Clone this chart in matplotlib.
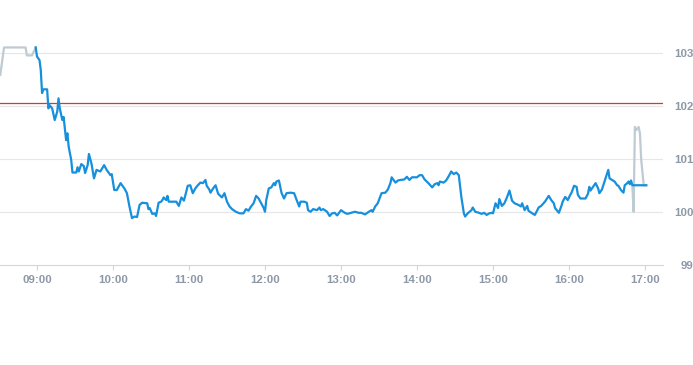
import matplotlib
matplotlib.use("Agg")
import matplotlib.pyplot as plt

# ---- data -------------------------------------------------------------
pre_times = ["08:31", "08:34", "08:51", "08:52", "08:56", "08:59"]
pre_values = [102.59, 103.11, 103.11, 102.96, 102.96, 103.11]

main_times = [
    "08:59", "09:00", "09:02", "09:03", "09:04", "09:05", "09:08", "09:09", "09:10", "09:12",
    "09:14", "09:16", "09:17", "09:18", "09:20", "09:21", "09:23", "09:24", "09:25", "09:27",
    "09:28", "09:31", "09:32", "09:33", "09:35", "09:37", "09:38", "09:40", "09:41", "09:43",
    "09:45", "09:47", "09:50", "09:53", "09:55", "09:58", "09:59", "10:01", "10:03", "10:06",
    "10:09", "10:11", "10:13", "10:15", "10:17", "10:19", "10:21", "10:23", "10:27", "10:28",
    "10:29", "10:31", "10:33", "10:34", "10:36", "10:38", "10:39", "10:40", "10:42", "10:43",
    "10:44", "10:48", "10:50", "10:52", "10:54", "10:56", "10:57", "10:59", "11:01", "11:03",
    "11:05", "11:07", "11:09", "11:11", "11:13", "11:14", "11:16", "11:17", "11:19", "11:21",
    "11:23", "11:26", "11:28", "11:30", "11:32", "11:34", "11:37", "11:40", "11:43", "11:45",
    "11:47", "11:49", "11:51", "11:53", "11:55", "11:57", "11:59", "12:00", "12:01", "12:03",
    "12:05", "12:07", "12:08", "12:09", "12:11", "12:12", "12:13", "12:15", "12:17", "12:20",
    "12:23", "12:25", "12:27", "12:28", "12:31", "12:33", "12:34", "12:36", "12:38", "12:41",
    "12:43", "12:44", "12:46", "12:49", "12:51", "12:53", "12:55", "12:57", "13:00", "13:03",
    "13:05", "13:08", "13:11", "13:14", "13:16", "13:19", "13:22", "13:24", "13:25", "13:27",
    "13:29", "13:32", "13:35", "13:37", "13:39", "13:40", "13:43", "13:45", "13:47", "13:50",
    "13:52", "13:54", "13:56", "14:00", "14:02", "14:04", "14:06", "14:09", "14:12", "14:14",
    "14:16", "14:17", "14:18", "14:21", "14:23", "14:25", "14:27", "14:29", "14:31", "14:33",
    "14:35", "14:37", "14:38", "14:40", "14:43", "14:44", "14:46", "14:49", "14:51", "14:53",
    "14:55", "14:57", "14:59", "15:00", "15:02", "15:04", "15:05", "15:07", "15:09", "15:11",
    "15:13", "15:15", "15:17", "15:20", "15:22", "15:23", "15:25", "15:27", "15:28", "15:31",
    "15:33", "15:35", "15:36", "15:38", "15:41", "15:44", "15:46", "15:48", "15:49", "15:52",
    "15:54", "15:55", "15:57", "15:59", "16:01", "16:02", "16:04", "16:06", "16:07", "16:09",
    "16:13", "16:15", "16:16", "16:17", "16:19", "16:21", "16:23", "16:24", "16:26", "16:28",
    "16:31", "16:32", "16:34", "16:36", "16:38", "16:39", "16:41", "16:43", "16:44", "16:46",
    "16:47", "16:48", "16:49", "16:50", "17:01",
]
main_values = [
    103.11, 102.94, 102.87, 102.68, 102.25, 102.32, 102.32, 101.96, 102.02, 101.96,
    101.74, 101.90, 102.15, 101.96, 101.74, 101.80, 101.36, 101.49, 101.24, 100.99,
    100.75, 100.75, 100.85, 100.77, 100.91, 100.87, 100.74, 100.89, 101.10, 100.92,
    100.64, 100.80, 100.77, 100.89, 100.80, 100.70, 100.72, 100.42, 100.42, 100.55,
    100.45, 100.36, 100.11, 99.89, 99.92, 99.91, 100.14, 100.18, 100.17, 100.06,
    100.08, 99.97, 99.98, 99.93, 100.18, 100.20, 100.23, 100.28, 100.23, 100.31,
    100.20, 100.20, 100.20, 100.12, 100.28, 100.22, 100.31, 100.50, 100.51, 100.36,
    100.45, 100.51, 100.56, 100.55, 100.61, 100.50, 100.43, 100.37, 100.45, 100.51,
    100.35, 100.28, 100.36, 100.20, 100.11, 100.06, 100.01, 99.98, 99.98, 100.06,
    100.03, 100.11, 100.17, 100.31, 100.26, 100.17, 100.08, 100.01, 100.23, 100.45,
    100.47, 100.55, 100.51, 100.58, 100.60, 100.48, 100.37, 100.26, 100.36, 100.37,
    100.36, 100.23, 100.11, 100.20, 100.20, 100.18, 100.04, 100.01, 100.06, 100.04,
    100.09, 100.04, 100.06, 100.01, 99.93, 99.98, 99.99, 99.94, 100.04, 99.99,
    99.97, 99.99, 100.01, 99.99, 99.99, 99.96, 100.01, 100.04, 100.01, 100.11,
    100.17, 100.36, 100.37, 100.43, 100.55, 100.66, 100.56, 100.60, 100.61, 100.62,
    100.67, 100.61, 100.66, 100.66, 100.70, 100.70, 100.62, 100.55, 100.47, 100.53,
    100.55, 100.51, 100.58, 100.56, 100.60, 100.68, 100.77, 100.72, 100.75, 100.70,
    100.29, 99.98, 99.92, 99.98, 100.04, 100.09, 100.01, 99.99, 99.97, 99.99,
    99.95, 99.98, 99.99, 99.98, 100.17, 100.08, 100.25, 100.12, 100.17, 100.28,
    100.41, 100.22, 100.17, 100.14, 100.11, 100.17, 100.04, 100.12, 100.03, 99.98,
    99.95, 100.04, 100.09, 100.12, 100.20, 100.31, 100.23, 100.17, 100.08, 99.99,
    100.12, 100.20, 100.29, 100.23, 100.33, 100.37, 100.50, 100.48, 100.33, 100.26,
    100.26, 100.35, 100.48, 100.41, 100.48, 100.55, 100.45, 100.36, 100.43, 100.58,
    100.80, 100.64, 100.61, 100.58, 100.51, 100.50, 100.42, 100.37, 100.51, 100.55,
    100.58, 100.53, 100.60, 100.51, 100.51,
]

post_times = ["16:50", "16:51", "16:52", "16:53", "16:55", "16:56", "16:57", "16:59", "17:01"]
post_values = [100.51, 100.01, 101.61, 101.55, 101.61, 101.49, 100.99, 100.51, 100.51]

reference_level = 102.06

tick_times = ["09:00", "10:00", "11:00", "12:00", "13:00", "14:00", "15:00", "16:00", "17:00"]
y_ticks = [99, 100, 101, 102, 103]
y_tick_labels = ["99", "100", "101", "102", "103"]


def to_min(s):
    h, m = s.split(":")
    return int(h) * 60 + int(m)


# ---- figure -----------------------------------------------------------
plt.rcParams["font.family"] = ["Liberation Sans", "DejaVu Sans"]
fig = plt.figure(figsize=(6.93, 3.65), dpi=100)
ax = fig.add_axes([0.0, 0.2732, 0.9567, 0.672])

x_lo = to_min("09:00") - 29.2
x_hi = to_min("17:00") + 14.2
ax.set_xlim(x_lo, x_hi)
ax.set_ylim(99, 103.628)

# grid
for yv in y_ticks[1:]:
    ax.axhline(yv, color="#e6e6e6", lw=0.8, zorder=0)

ax.axhline(reference_level, color="#cc3a3a", lw=0.9, zorder=1)

ax.plot([to_min(t) for t in pre_times], pre_values, color="#bfcbd3", lw=1.6,
        solid_joinstyle="round", zorder=2)
ax.plot([to_min(t) for t in post_times], post_values, color="#bfcbd3", lw=1.6,
        solid_joinstyle="round", zorder=2)
ax.plot([to_min(t) for t in main_times], main_values, color="#1690dc", lw=1.6,
        solid_joinstyle="round", zorder=3)

for s in ["top", "left", "right"]:
    ax.spines[s].set_visible(False)
ax.spines["bottom"].set_color("#ccd6eb")
ax.spines["bottom"].set_linewidth(0.8)

label_color = "#8e99a8"
ax.set_xticks([to_min(t) for t in tick_times])
ax.set_xticklabels(tick_times)
ax.tick_params(axis="x", length=3.5, width=0.8, color="#ccd6eb", pad=3.5,
               labelsize=8.25, labelcolor=label_color)
for lab in ax.get_xticklabels():
    lab.set_fontweight("bold")

ax.yaxis.tick_right()
ax.set_yticks(y_ticks)
ax.set_yticklabels(y_tick_labels)
ax.tick_params(axis="y", length=0, pad=22, labelsize=8.25, labelcolor=label_color)
for lab in ax.get_yticklabels():
    lab.set_fontweight("bold")
    lab.set_horizontalalignment("right")

fig.savefig("out.png", dpi=100)
